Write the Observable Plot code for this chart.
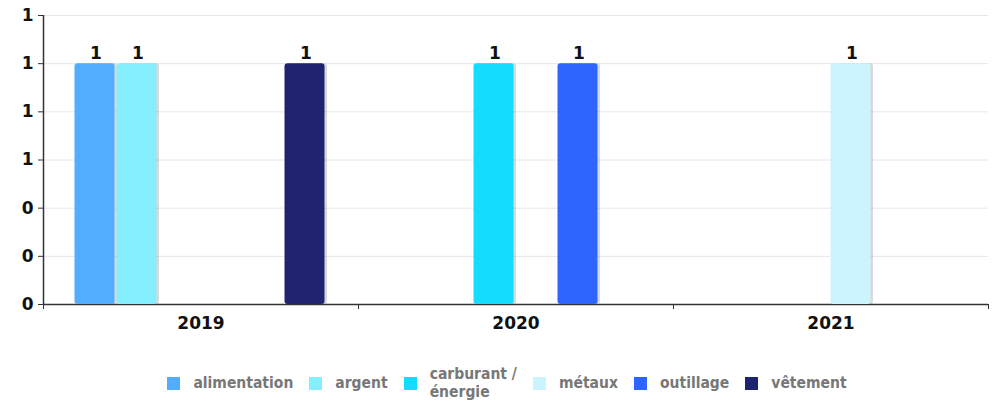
<!DOCTYPE html>
<html>
<head>
<meta charset="utf-8">
<script src="https://cdn.jsdelivr.net/npm/d3@7"></script>
<script src="https://cdn.jsdelivr.net/npm/@observablehq/plot@0.6"></script>
<style>
  body { margin: 0; background: #fff; }
  #chart { width: 998px; }
  .legend { display: flex; justify-content: center; align-items: center; margin-top: 20px; padding-left: 16px;
    font-family: "DejaVu Sans Condensed", "DejaVu Sans", sans-serif; font-weight: bold; font-size: 15.5px; color: #777; }
  .item { display: flex; align-items: center; margin: 0 8px; }
  .sw { width: 13px; height: 13px; margin-right: 13px; }
  .lab { line-height: 18px; }
</style>
</head>
<body>
<div id="chart"></div>
<script>
const years = ["2019", "2020", "2021"];
const series = ["alimentation", "argent", "carburant / énergie", "métaux", "outillage", "vêtement"];
const legendLabels = ["alimentation", "argent", "carburant /<br>énergie", "métaux", "outillage", "vêtement"];
const colors = ["#52adff", "#86efff", "#14dcff", "#ccf4ff", "#2e64ff", "#202470"];
// values per year, in series order (null = no bar)
const values2019 = [1, 1, null, null, null, 1];
const values2020 = [null, null, 1, null, 1, null];
const values2021 = [null, null, null, 1, null, null];
const yTicks = [0, 0.2, 0.4, 0.6, 0.8, 1, 1.2];

const valuesByYear = [values2019, values2020, values2021];
const rows = [];
valuesByYear.forEach((vals, yi) => vals.forEach((v, si) => {
  if (v != null) rows.push({year: years[yi], yi, series: series[si], si, value: v});
}));

// grouped band layout: 6 slots per year with 0.75 slot of outer padding each side
const slots = series.length + 1.5;
const x1 = d => d.yi + (0.75 + d.si) / slots;
const x2 = d => d.yi + (0.75 + d.si + 1) / slots;
const xm = d => d.yi + (0.75 + d.si + 0.5) / slots;
const fmt = v => String(Math.round(v));

const plot = Plot.plot({
  width: 998,
  height: 345,
  marginLeft: 43,
  marginRight: 10,
  marginTop: 15,
  marginBottom: 41,
  style: {fontFamily: "DejaVu Sans, sans-serif", fontSize: "17px", color: "#111", background: "#fff"},
  x: {domain: [0, years.length]},
  y: {domain: [0, 1.2]},
  color: {domain: series, range: colors},
  marks: [
    Plot.gridY(yTicks, {stroke: "#e6e6e6", strokeOpacity: 1}),
    Plot.ruleY([0], {stroke: "#333", strokeWidth: 1.5}),
    Plot.axisX({ticks: d3.range(years.length + 1), tickFormat: () => "", tickSize: 5, stroke: "#333", label: null}),
    Plot.axisX({ticks: years.map((y, i) => i + 0.5), tickSize: 0, tickPadding: 12, label: null,
      tickFormat: d => years[Math.floor(d)], fontWeight: "bold", fontSize: 17, fill: "#111"}),
    Plot.axisY({ticks: yTicks, tickSize: 5, tickPadding: 5, tickFormat: fmt, label: null,
      fontWeight: "bold", fontSize: 17, fill: "#111", stroke: "#333"}),
    Plot.ruleX([0], {stroke: "#333", strokeWidth: 1.5}),
    Plot.rectY(rows, {x1, x2, y: "value", insetRight: 2, dx: 2.5, fill: "#000", fillOpacity: 0.15, rx: 3}),
    Plot.rectY(rows, {x1, x2, y: "value", insetRight: 2, fill: "series", rx: 3}),
    Plot.text(rows, {x: xm, y: "value", text: d => fmt(d.value), dy: -10, fontWeight: "bold", fontSize: 17, fill: "#111"})
  ]
});
document.getElementById("chart").appendChild(plot);

const legend = document.createElement("div");
legend.className = "legend";
series.forEach((s, i) => {
  const item = document.createElement("div");
  item.className = "item";
  item.innerHTML = `<span class="sw" style="background:${colors[i]}"></span><span class="lab">${legendLabels[i]}</span>`;
  legend.appendChild(item);
});
document.getElementById("chart").appendChild(legend);
</script>
</body>
</html>
